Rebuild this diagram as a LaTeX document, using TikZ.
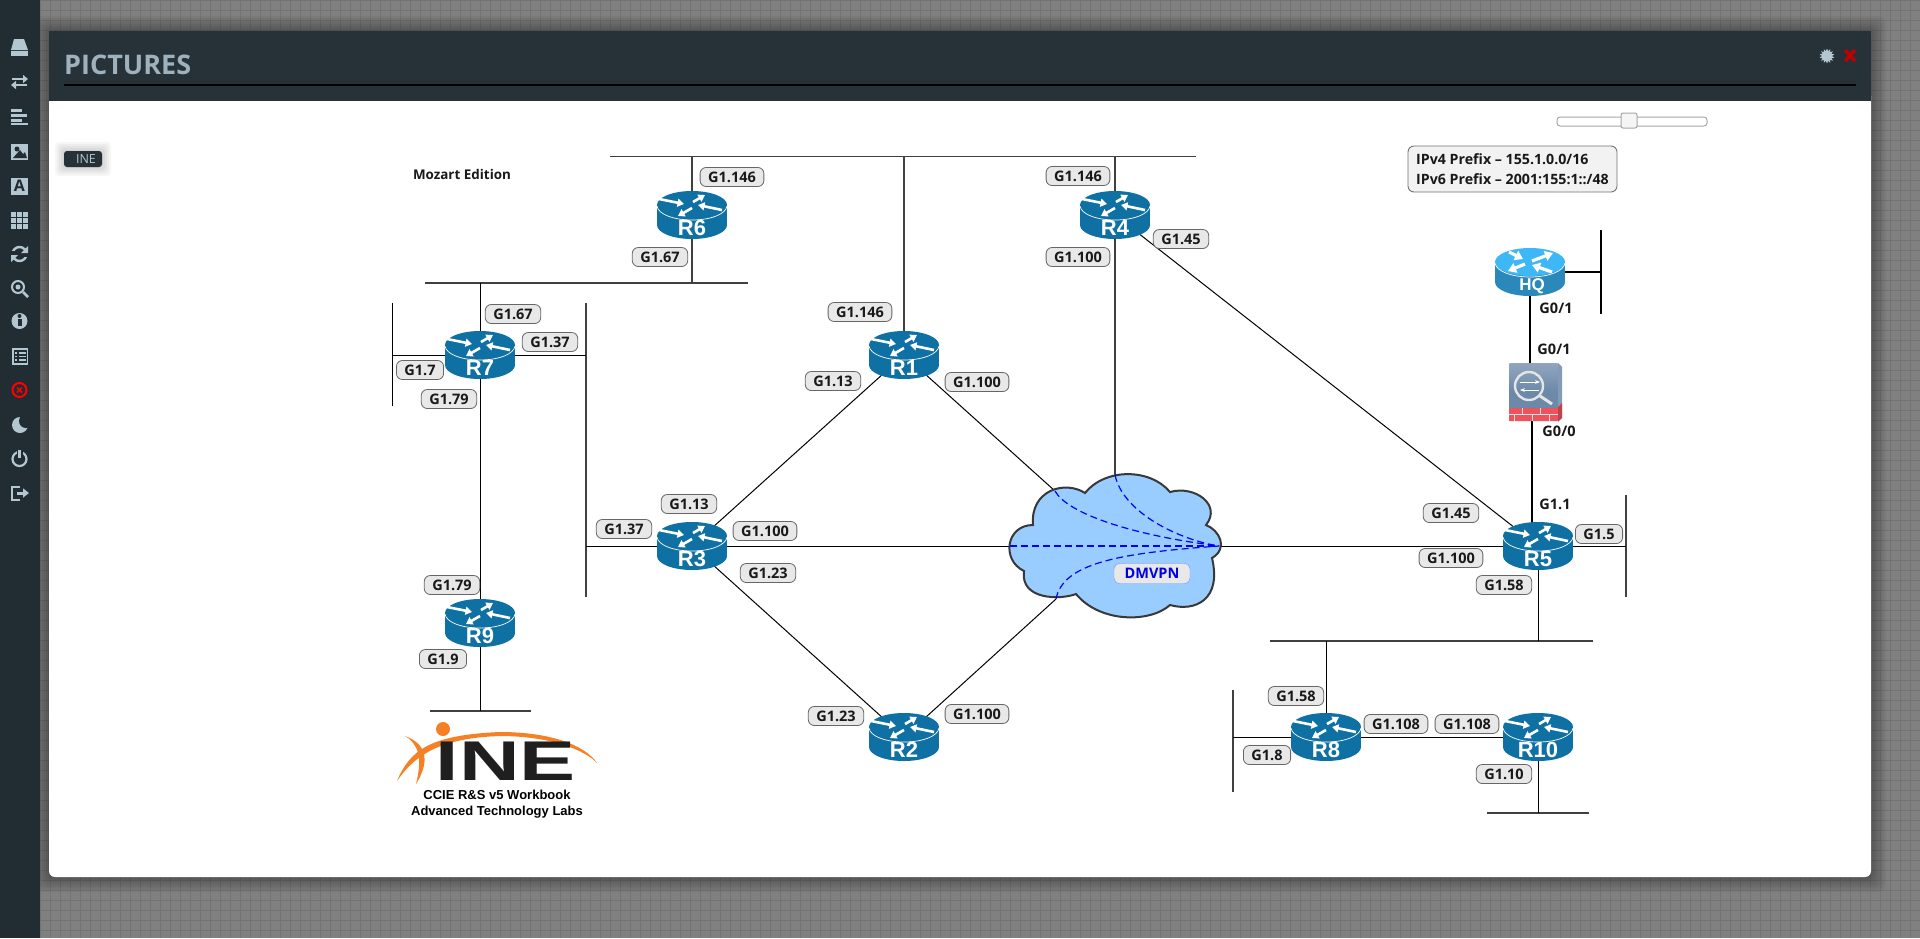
\documentclass[tikz,border=0pt]{standalone}
\usepackage{fontspec}
\setmainfont{Open Sans}
\newfontfamily\arialfont{Liberation Sans}
\usetikzlibrary{arrows.meta,shapes.geometric}
\definecolor{barcol}{HTML}{212C33}
\definecolor{headcol}{HTML}{263238}
\definecolor{iconcol}{HTML}{B4C6D0}
\definecolor{titlecol}{HTML}{9FB1BC}
\definecolor{rtrcol}{HTML}{0E70A3}
\definecolor{hqtop}{HTML}{3DB7F5}
\definecolor{hqside}{HTML}{2A88BA}
\definecolor{cloudcol}{HTML}{99CCFF}
\definecolor{inecol}{HTML}{F58025}
\definecolor{fwcol}{HTML}{6C89A9}
\definecolor{fwred}{HTML}{F0525C}
\pgfdeclarelayer{frame}
\pgfdeclarelayer{links}
\pgfsetlayers{frame,links,main}
\tikzset{
	ifbox/.style={draw=black!60, fill=black!9, rounded corners=6pt, line width=0.8pt, minimum height=19pt, inner xsep=8pt, inner ysep=0pt, text=black!90, font=\fontsize{14.5}{16}\selectfont\bfseries},
	portlbl/.style={inner sep=0pt, text=black!90, font=\fontsize{14.5}{16}\selectfont\bfseries},
	rtrlbl/.style={inner sep=0pt, minimum width=70pt, minimum height=48pt, text=white, font=\arialfont\fontsize{#1}{#1}\selectfont\bfseries},
	lan/.style={draw=black!75, line width=1.3pt},
	wan/.style={draw=black, line width=1pt},
	hqlink/.style={draw=black, line width=2.4pt},
	tunnel/.style={draw=blue, dashed, dash pattern=on 7pt off 4pt, line width=1.2pt},
	rtrarrow/.style={draw=white, line width=2.6pt, -{Triangle[length=6.5pt,width=8pt]}},
	hqarrow/.style={draw=white, line width=3.2pt, -{Triangle[length=8pt,width=10pt]}},
	pics/rtrbody/.style n args={2}{code={
		\fill[#2] (0,10) ellipse [x radius=35, y radius=14];
		\fill[#2] (-35,-10) rectangle (35,10);
		\fill[#1] (0,-10) ellipse [x radius=35, y radius=14];
		\draw[white, line width=0.7pt] (-35,-9) .. controls (-34,-1) and (-19,5) .. (0,5) .. controls (19,5) and (34,-1) .. (35,-9);
	}},
	pics/rtrarrows/.style={code={
		\draw[rtrarrow] (-33,-16) -- (-8,-11);
		\draw[rtrarrow] (1,-13) -- (13,-20);
		\draw[rtrarrow] (30,-5) -- (6,-10);
		\draw[rtrarrow] (0,-7) -- (-14,1);
	}}
}
\begin{document}
\begin{tikzpicture}[x=1pt, y=-1pt]
	\useasboundingbox (0,0) rectangle (1920,938);

	\begin{pgfonlayer}{frame}
		% 1. Grid behind the window
		\fill[black!50] (0,0) rectangle (1920,938);
		\foreach \g in {0,10,...,1920} \draw[black!55, line width=1pt] (\g,0) -- (\g,938);
		\foreach \g in {0,10,...,930} \draw[black!55, line width=1pt] (0,\g) -- (1920,\g);
		% window shadow
		\foreach \s in {1,3,...,15} \fill[black, opacity=0.045, rounded corners=8pt] (49-\s,31-\s) rectangle (1871+\s,877+\s);
		% window
		\fill[white, rounded corners=6pt] (49,90) rectangle (1871,877);
		\fill[headcol] (49,31) rectangle (1871,101);
		\fill[black] (64,84) rectangle (1856,86);
		% left bar
		\fill[barcol] (0,0) rectangle (40,938);
	\end{pgfonlayer}

	% 2. Left bar icons
	\fill[iconcol] (14,39) -- (24,39) -- (28,50) -- (11,50) -- cycle;
	\fill[iconcol] (11,51) rectangle (28,56);
	\draw[iconcol, line width=2.4pt, -{Triangle[length=5pt,width=8pt]}] (12,79) -- (28,79);
	\draw[iconcol, line width=2.4pt, -{Triangle[length=5pt,width=8pt]}] (27,85) -- (11,85);
	\fill[iconcol] (11,109) rectangle (22,112);
	\fill[iconcol] (11,114) rectangle (27,117);
	\fill[iconcol] (11,119) rectangle (22,122);
	\fill[iconcol] (11,122.5) rectangle (28,125);
	\fill[iconcol] (11,144) rectangle (28,160);
	\fill[barcol] (17,149) circle (2.5);
	\fill[barcol] (13,158) -- (20,150) -- (23,154) -- (25,152) -- (27,158) -- cycle;
	\node[fill=iconcol, text=barcol, minimum size=17pt, inner sep=0pt, font=\bfseries\fontsize{16}{16}\selectfont] (iconA) at (19.5,186) {A};
	\foreach \a in {0,1,2} \foreach \b in {0,1,2} \fill[iconcol] (11+6*\a,212+6*\b) rectangle (16+6*\a,217+6*\b);
	\draw[iconcol, line width=2.4pt] (19.5,254) circle (7);
	\fill[barcol] (9,251) rectangle (30,257);
	\fill[iconcol] (28,246) -- (28,253) -- (21,253) -- cycle;
	\fill[iconcol] (11,262) -- (11,255) -- (18,255) -- cycle;
	\draw[iconcol, line width=2pt] (18,287) circle (6);
	\fill[iconcol] (18,287) circle (2.5);
	\draw[iconcol, line width=2.6pt] (23,292) -- (28,297);
	\fill[iconcol] (19.5,321) circle (8);
	\fill[barcol] (17.5,319) rectangle (21.5,326);
	\fill[barcol] (19.5,316) circle (2);
	\draw[iconcol, line width=1.6pt] (13,349) rectangle (27.5,364);
	\foreach \b in {353,356.5,360} {
		\fill[iconcol] (15,\b-0.7) rectangle (17,\b+0.7);
		\fill[iconcol] (18.5,\b-0.7) rectangle (25.5,\b+0.7);
	}
	\draw[red, line width=2pt] (19.5,390) circle (7);
	\draw[red, line width=1.6pt] (17,387.5) -- (22,392.5);
	\draw[red, line width=1.6pt] (22,387.5) -- (17,392.5);
	\fill[iconcol] (20,425) circle (8);
	\fill[barcol] (26,421) circle (7);
	\draw[iconcol, line width=2.2pt] (19.5,459) circle (7);
	\fill[barcol] (16.5,448) rectangle (22.5,456);
	\draw[iconcol, line width=2.2pt] (19.5,450) -- (19.5,458);
	\draw[iconcol, line width=2pt] (20,486.5) -- (12,486.5) -- (12,499.5) -- (20,499.5);
	\draw[iconcol, line width=3pt, -{Triangle[length=6pt,width=9pt]}] (17,493) -- (29,493);

	% 3. Window furniture
	\node[anchor=west, inner sep=0pt, text=titlecol, font=\fontsize{27}{30}\selectfont\bfseries] (title) at (64,65) {PICTURES};
	\node[star, star points=14, star point ratio=1.5, fill=iconcol, inner sep=0pt, minimum size=15pt] (gear) at (1827,56) {};
	\draw[red!75!black, line width=3.4pt] (1845,50) -- (1855,61);
	\draw[red!75!black, line width=3.4pt] (1855,50) -- (1845,61);
	\draw[black!35, line width=1pt, fill=white, rounded corners=3pt] (1557,117) rectangle (1707,126);
	\draw[black!35, line width=1pt, fill=black!4, rounded corners=2pt] (1621,113) rectangle (1637,128);
	\foreach \s in {1,3,...,9} \fill[black, opacity=0.035, rounded corners=4pt] (64-\s,151-\s) rectangle (102+\s,167+\s);
	\node[fill=headcol, rounded corners=3pt, minimum width=38pt, minimum height=16pt, inner sep=0pt, text=iconcol, font=\fontsize{12.5}{14}\selectfont] (badge) at (83,159) {\hspace*{6pt}INE};

	% 4. Cloud
	\draw[fill=cloudcol, draw=black!78, line width=2pt] (1085,493) .. controls (1105,468) and (1150,468) .. (1170,492)
		.. controls (1195,485) and (1222,505) .. (1206,525)
		.. controls (1219,530) and (1229,548) .. (1212,558)
		.. controls (1222,600) and (1195,612) .. (1170,605)
		.. controls (1150,623) and (1100,623) .. (1076,594)
		.. controls (1060,600) and (1020,600) .. (1024,571)
		.. controls (1001,560) and (1006,525) .. (1033,525)
		.. controls (1030,490) and (1065,480) .. (1085,493) -- cycle;
	\coordinate (hubE) at (1219,546);
	\coordinate (hubW) at (1010,546);
	\coordinate (hubN) at (1115,475);
	\coordinate (hubNW) at (1055,491);
	\coordinate (hubSW) at (1056,599);
	\draw[tunnel] (hubW) -- (hubE);
	\draw[tunnel] (hubNW) .. controls (1067,513) and (1130,535) .. (hubE);
	\draw[tunnel] (hubN) .. controls (1123,513) and (1180,540) .. (hubE);
	\draw[tunnel] (hubSW) .. controls (1063,563) and (1120,553) .. (hubE);
	\node[draw=blue!45, fill=black!9, rounded corners=6pt, minimum width=76pt, minimum height=20pt, inner sep=0pt, text=blue!90!black, font=\fontsize{14.5}{16}\selectfont\bfseries] (dmvpn) at (1152,573.5) {DMVPN};

	% 5. Routers
	\foreach \name/\x/\y in {R1/904/355, R2/904/737, R3/692/546, R4/1115/215, R5/1538/546, R6/692/215, R7/480/355, R8/1326/737, R9/480/623, R10/1538/737} {
		\pic at (\x,\y) {rtrbody={rtrcol}{rtrcol}};
		\pic at (\x,\y) {rtrarrows};
		\node[rtrlbl=22] (\name) at (\x,\y) {\smash{\raisebox{-20pt}{\name}}};
	}
	\pic at (1530,272) {rtrbody={hqtop}{hqside}};
	\draw[hqarrow] (1509,252) -- (1523,259);
	\draw[hqarrow] (1532,261) -- (1553,253);
	\draw[hqarrow] (1525,264) -- (1508,271);
	\draw[hqarrow] (1552,272) -- (1532,265);
	\node[rtrlbl=17] (HQ) at (1532,272) {\smash{\raisebox{-18pt}{HQ}}};

	% 6. Firewall
	\fill[fwcol!85!white] (1558,363) -- (1562,367) -- (1562,418) -- (1558,422) -- cycle;
	\node[top color=fwcol!75!white, bottom color=fwcol, middle color=fwcol, minimum width=49pt, minimum height=58pt, inner sep=0pt, rounded corners=1pt] (fw) at (1533.5,392) {};
	\fill[fwred] (1509,408) rectangle (1558,421);
	\fill[fwred!80!black] (1558,407) -- (1562,403) -- (1562,418) -- (1558,421) -- cycle;
	\foreach \b in {1522,1540} \draw[white!80!fwred, line width=0.6pt] (\b,408) -- (\b,414);
	\foreach \b in {1514,1532,1549} \draw[white!80!fwred, line width=0.6pt] (\b,414) -- (\b,421);
	\draw[white!80!fwred, line width=0.6pt] (1509,414) -- (1558,414);
	\draw[white!90!black, line width=2.4pt] (1529,386) circle (14);
	\draw[white!90!black, line width=3pt] (1540,396) -- (1552,404);
	\draw[white, line width=1pt, -{Stealth[length=5pt]}] (1520,382) -- (1540,382);
	\draw[white, line width=1pt, -{Stealth[length=5pt]}] (1539,390) -- (1520,390);

	\begin{pgfonlayer}{links}
		% 7. LAN segments
		\coordinate (top1) at (610,156.5);
		\coordinate (top2) at (1196,156.5);
		\draw[lan] (top1) -- (top2);
		\draw[lan] (R6.center) -- (R6.center |- top1);
		\draw[lan] (R1.center) -- (R1.center |- top1);
		\draw[lan] (R4.center) -- (R4.center |- top1);
		\draw[lan] (R4.center) -- (hubN);
		\coordinate (mid1) at (425,283);
		\coordinate (mid2) at (748,283);
		\draw[lan] (mid1) -- (mid2);
		\draw[lan] (R6.center) -- (R6.center |- mid1);
		\draw[wan] (R7.center) -- (R7.center |- mid1);
		\draw[wan] (R7.center) -- (R9.center);
		\coordinate (r7left1) at (392,303);
		\coordinate (r7left2) at (392,406);
		\draw[wan] (r7left1) -- (r7left2);
		\draw[wan] (R7.center) -- (R7.center -| r7left1);
		\coordinate (r37a) at (586,303);
		\coordinate (r37b) at (586,597);
		\draw[lan] (r37a) -- (r37b);
		\draw[wan] (R7.center) -- (R7.center -| r37a);
		\draw[wan] (R3.center) -- (R3.center -| r37a);
		\coordinate (r9a) at (430,711);
		\coordinate (r9b) at (531,711);
		\draw[lan] (r9a) -- (r9b);
		\draw[wan] (R9.center) -- (R9.center |- r9a);
		% 8. DMVPN spokes
		\draw[wan] (R3.center) -- (hubW);
		\draw[wan] (R5.center) -- (hubE);
		\draw[wan] (R1.center) -- (hubNW);
		\draw[wan] (R2.center) -- (hubSW);
		\draw[wan] (R4.center) -- (R5.center);
		\draw[wan] (R3.center) -- (R1.center);
		\draw[wan] (R3.center) -- (R2.center);
		% 9. R5 side
		\coordinate (r5a) at (1626,495);
		\coordinate (r5b) at (1626,597);
		\draw[lan] (r5a) -- (r5b);
		\draw[wan] (R5.center) -- (R5.center -| r5a);
		\coordinate (r58a) at (1270,641);
		\coordinate (r58b) at (1593,641);
		\draw[lan] (r58a) -- (r58b);
		\draw[wan] (R5.center) -- (R5.center |- r58a);
		\draw[wan] (R8.center) -- (R8.center |- r58a);
		\coordinate (r8a) at (1233,690);
		\coordinate (r8b) at (1233,792);
		\draw[lan] (r8a) -- (r8b);
		\draw[wan] (R8.center) -- (R8.center -| r8a);
		\draw[wan] (R8.center) -- (R10.center);
		\coordinate (r10a) at (1487,813);
		\coordinate (r10b) at (1589,813);
		\draw[lan] (r10a) -- (r10b);
		\draw[wan] (R10.center) -- (R10.center |- r10a);
		% 10. HQ side
		\coordinate (hqS) at (1530,272);
		\draw[hqlink] (hqS) -- (hqS |- fw.north);
		\coordinate (fwS) at (1532,421);
		\draw[hqlink] (fwS) -- (fwS |- R5.center);
		\coordinate (hqa) at (1601,230);
		\coordinate (hqb) at (1601,314);
		\draw[hqlink] (hqa) -- (hqb);
		\draw[hqlink] (HQ.center) -- (HQ.center -| hqa);
	\end{pgfonlayer}

	% 11. Interface labels
	\foreach \txt/\x/\y [count=\i] in {G1.146/732/177, G1.67/660/257, G1.67/513/314, G1.37/550/342, G1.7/420/370, G1.79/449/399, G1.146/860/312, G1.13/833/381, G1.100/977/382, G1.146/1078/176, G1.45/1181/239, G1.100/1078/257, G1.13/689/504, G1.37/624/529, G1.100/765/531, G1.23/768/573, G1.79/452/585, G1.9/443/659, G1.23/836/716, G1.100/977/714, G1.45/1451/513, G1.100/1451/558, G1.5/1599/534, G1.58/1504/585, G1.58/1296/696, G1.108/1396/724, G1.108/1467/724, G1.8/1267/755, G1.10/1504/774} {
		\node[ifbox] (if\i) at (\x,\y) {\txt};
	}
	\node[portlbl] (hqport) at (1556,308) {G0/1};
	\node[portlbl] (fwin) at (1554,349.5) {G0/1};
	\node[portlbl] (fwout) at (1559,431) {G0/0};
	\node[portlbl] (r5port) at (1555,504) {G1.1};

	% 12. Notes
	\node[portlbl, font=\fontsize{13.4}{16}\selectfont\bfseries] (edition) at (462,174) {Mozart Edition};
	\node[draw=black!55, fill=black!5, rounded corners=6pt, line width=0.9pt, minimum width=209pt, minimum height=46pt, inner xsep=6pt, inner ysep=0pt, align=left, text=black!90, font=\fontsize{14.2}{20}\selectfont\bfseries] (prefix) at (1512.5,169) {IPv4 Prefix -- 155.1.0.0/16\\IPv6 Prefix -- 2001:155:1::/48};

	% 13. Logo
	\fill[inecol] (443,729) circle (7);
	\fill[inecol] (397,781) .. controls (410,750) and (430,735) .. (500,732) .. controls (550,732) and (585,745) .. (597,763) .. controls (585,750) and (550,736) .. (500,736) .. controls (440,738) and (415,755) .. (397,781) -- cycle;
	\fill[inecol] (405,736) .. controls (430,745) and (428,765) .. (416,784) .. controls (422,760) and (420,745) .. (405,736) -- cycle;
	\node[anchor=base, inner sep=0pt, xscale=1.5, text=black!88, font=\arialfont\fontsize{56}{56}\selectfont\bfseries] (inelogo) at (506,780) {INE};
	\node[inner sep=0pt, align=center, text=black, font=\arialfont\fontsize{13}{16}\selectfont\bfseries] (workbook) at (497,804) {CCIE R\&S v5 Workbook\\Advanced Technology Labs};
\end{tikzpicture}
\end{document}
